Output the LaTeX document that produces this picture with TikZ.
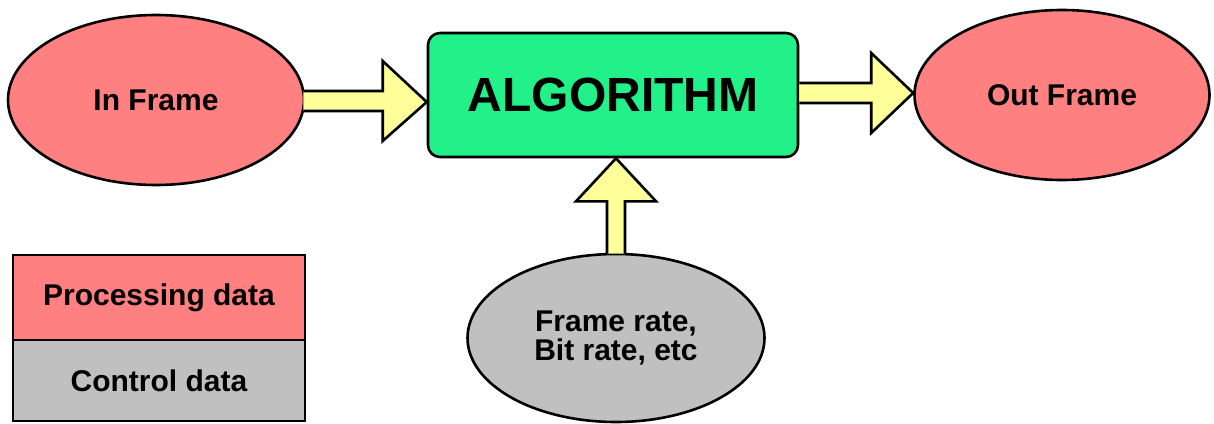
\documentclass[tikz,border=0pt]{standalone}
\usepackage{fontspec}
\setmainfont{Liberation Sans}
\usetikzlibrary{shapes.geometric,calc}
\definecolor{salmon}{HTML}{FF8080}
\definecolor{algo}{HTML}{22F088}
\definecolor{fatyellow}{HTML}{FFFF99}
\definecolor{ctrlgray}{HTML}{C0C0C0}
\tikzset{
  outl/.style={draw=black, line width=2.6pt, line join=round},
  oval/.style={outl, ellipse, inner sep=0pt, font=\fontsize{30}{29}\selectfont\bfseries, align=center},
  algbox/.style={outl, rectangle, rounded corners=12pt, fill=algo, inner sep=0pt,
    minimum width=370pt, minimum height=124pt, font=\fontsize{48}{52}\selectfont\bfseries},
  legbox/.style={outl, line join=miter, rectangle, inner sep=0pt, minimum width=292pt,
    font=\fontsize{30}{34}\selectfont\bfseries},
  fatarrow/.style={draw=black, line width=2.6pt, line join=miter, fill=fatyellow},
}
\begin{document}
\begin{tikzpicture}[x=1pt,y=-1pt]
\useasboundingbox (0,0) rectangle (1214,423);

\node[oval, fill=salmon, minimum width=296pt, minimum height=170pt] (in) at (156,100) {In Frame};
\node[algbox] (alg) at (613,95) {ALGORITHM};
\node[oval, fill=salmon, minimum width=295pt, minimum height=170pt] (out) at (1062,95) {Out Frame};
\node[oval, fill=ctrlgray, minimum width=297pt, minimum height=168pt] (ctl) at (616,338) {Frame rate,\\Bit rate, etc};

\node[legbox, fill=salmon, minimum height=85pt] (lproc) at (159,297.5) {Processing data};
\node[legbox, fill=ctrlgray, minimum height=81pt] (lctl) at (159,380.5) {Control data};

% In Frame -> ALGORITHM
\draw[fatarrow] let \p1=(in.east), \p2=(alg.west) in
  (\x1-2pt,\y1-1pt+10pt) -- (\x2-44pt,\y1-1pt+10pt) -- (\x2-44pt,\y1-1pt+40pt) -- (\x2,\y1-2pt)
  -- (\x2-44pt,\y1-1pt-40pt) -- (\x2-44pt,\y1-1pt-10pt) -- (\x1-2pt,\y1-1pt-10pt);
% ALGORITHM -> Out Frame
\draw[fatarrow] let \p1=(alg.east), \p2=(out.west) in
  (\x1,\y1+2pt+10pt) -- (\x2-42pt,\y1+2pt+10pt) -- (\x2-42pt,\y1+2pt+40pt) -- (\x2,\y1+2pt)
  -- (\x2-42pt,\y1+2pt-40pt) -- (\x2-42pt,\y1+2pt-10pt) -- (\x1,\y1+2pt-10pt);
% control -> ALGORITHM
\draw[fatarrow] let \p1=(ctl.north), \p2=(alg.south) in
  (\x1-9pt,\y1-1pt) -- (\x1-9pt,\y2-43pt) -- (\x1-40pt,\y2-43pt) -- (\x1,\y2)
  -- (\x1+40pt,\y2-43pt) -- (\x1+9pt,\y2-43pt) -- (\x1+9pt,\y1-1pt);
\end{tikzpicture}
\end{document}
